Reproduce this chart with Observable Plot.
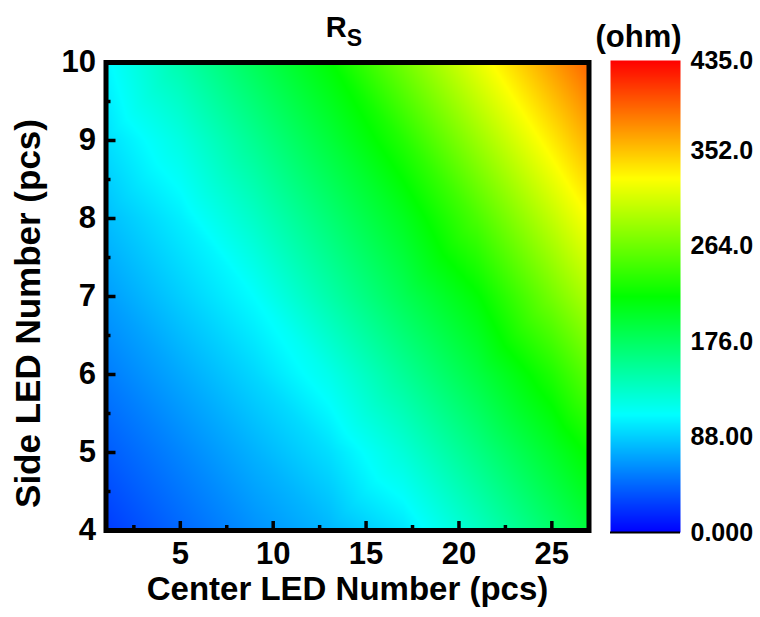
<!DOCTYPE html>
<html><head><meta charset="utf-8">
<script src="https://cdn.jsdelivr.net/npm/d3@7"></script>
<script src="https://cdn.jsdelivr.net/npm/@observablehq/plot@0.6"></script>
<style>
html,body{margin:0;padding:0;background:#fff;}
#chart{position:relative;width:760px;height:617px;overflow:hidden;}
#chart svg{position:absolute;left:0;top:0;}
</style></head><body><div id="chart"></div>
<script>
// Center LED number (x) and side LED number (y) sample positions
const centerLED = [1, 5, 9, 13, 17, 21, 25, 27];
const sideLED = [4, 5, 6, 7, 8, 9, 10];
// Rs (ohm); one row per sideLED, columns follow centerLED
const rsRows = [
  [25, 44, 62, 78, 98, 134, 172, 192],
  [39, 57, 76, 95, 125, 161, 199, 220],
  [53, 72, 92, 117, 153, 189, 230, 256],
  [67, 88, 109, 145, 181, 216, 267, 292],
  [81, 102, 133, 168, 204, 249, 300, 326],
  [95, 121, 156, 192, 232, 283, 334, 360],
  [106, 144, 180, 216, 266, 317, 368, 393]
];
const xTicks = [5, 10, 15, 20, 25];
const xMinor = [2.5, 7.5, 12.5, 17.5, 22.5];
const yTicks = [4, 5, 6, 7, 8, 9, 10];
const yMinor = [4.5, 5.5, 6.5, 7.5, 8.5, 9.5];
const cbTicks = [0, 88, 176, 264, 352, 435];
const cbLabels = ["0.000", "88.00", "176.0", "264.0", "352.0", "435.0"];
const colorDomain = [0, 108.75, 217.5, 326.25, 435];
const colorRange = ["#0000ff", "#00ffff", "#00ff00", "#ffff00", "#ff0000"];

const grid = [];
sideLED.forEach((y, i) => centerLED.forEach((x, j) => grid.push({x, y, v: rsRows[i][j]})));

const W = 760, H = 617;
const mL = 105.5, mR = 171.5, mT = 62, mB = 87;
const fw = W - mL - mR, fh = H - mT - mB;
const font = '"Liberation Sans", Arial, Helvetica, sans-serif';
const colorOpts = {type: "linear", domain: colorDomain, range: colorRange, interpolate: "rgb"};

const main = Plot.plot({
  width: W, height: H,
  marginLeft: mL, marginRight: mR, marginTop: mT, marginBottom: mB,
  style: {fontFamily: font, fontWeight: "bold", color: "black", background: "white"},
  x: {domain: [d3.min(centerLED), d3.max(centerLED)], axis: null},
  y: {domain: [d3.min(sideLED), d3.max(sideLED)], axis: null},
  color: colorOpts,
  marks: [
    Plot.raster(grid, {x: "x", y: "y", fill: "v", interpolate: "barycentric", pixelSize: 1,
      x1: d3.min(centerLED), x2: d3.max(centerLED), y1: d3.min(sideLED), y2: d3.max(sideLED)}),
    Plot.ruleX(xTicks, {x: d => d, insetTop: fh - 9, stroke: "black", strokeWidth: 3.5}),
    Plot.ruleX(xMinor, {x: d => d, insetTop: fh - 5, stroke: "black", strokeWidth: 3.5}),
    Plot.ruleY(yTicks, {y: d => d, insetRight: fw - 10, stroke: "black", strokeWidth: 3.5}),
    Plot.ruleY(yMinor, {y: d => d, insetRight: fw - 5, stroke: "black", strokeWidth: 3.5}),
    Plot.frame({stroke: "black", strokeWidth: 5}),
    Plot.axisX(xTicks, {tickSize: 0, tickPadding: 11, fontSize: 31, label: null, tickFormat: d => String(d)}),
    Plot.axisY(yTicks, {tickSize: 0, tickPadding: 10, fontSize: 31, label: null, tickFormat: d => String(d)}),
    Plot.text(["Center LED Number (pcs)"], {text: d => d, frameAnchor: "bottom", textAnchor: "middle", dy: 69, fontSize: 33}),
    Plot.text(["Side LED Number (pcs)"], {text: d => d, frameAnchor: "left", textAnchor: "middle", dx: -77, dy: 17, rotate: -90, fontSize: 35})
  ]
});

// Title R_S with subscript
const title = d3.select(main).append("text")
  .attr("x", 344).attr("y", 37).attr("text-anchor", "middle")
  .attr("font-family", font).attr("font-weight", "bold").attr("font-size", 29).attr("fill", "black");
title.append("tspan").text("R");
title.append("tspan").attr("font-size", 23).attr("dy", 9).text("S");

const bar = Plot.plot({
  width: W, height: H,
  marginLeft: 610, marginRight: 80, marginTop: 60, marginBottom: 85,
  style: {fontFamily: font, fontWeight: "bold", color: "black", background: "transparent"},
  x: {domain: [0, 1], axis: null},
  y: {domain: [d3.min(cbTicks), d3.max(cbTicks)], axis: null},
  color: colorOpts,
  marks: [
    Plot.raster({fill: (x, y) => y, x1: 0, x2: 1, y1: d3.min(cbTicks), y2: d3.max(cbTicks), pixelSize: 1}),
    Plot.ruleY([d3.min(cbTicks)], {stroke: "black", strokeWidth: 2}),
    Plot.axisY(cbTicks, {anchor: "right", tickSize: 0, tickPadding: 10, fontSize: 25,
      tickFormat: d => cbLabels[cbTicks.indexOf(d)], label: null}),
    Plot.text(["(ohm)"], {text: d => d, frameAnchor: "top", dx: -7, dy: -36, fontSize: 31})
  ]
});

const chart = document.getElementById("chart");
chart.appendChild(main);
chart.appendChild(bar);
</script></body></html>
